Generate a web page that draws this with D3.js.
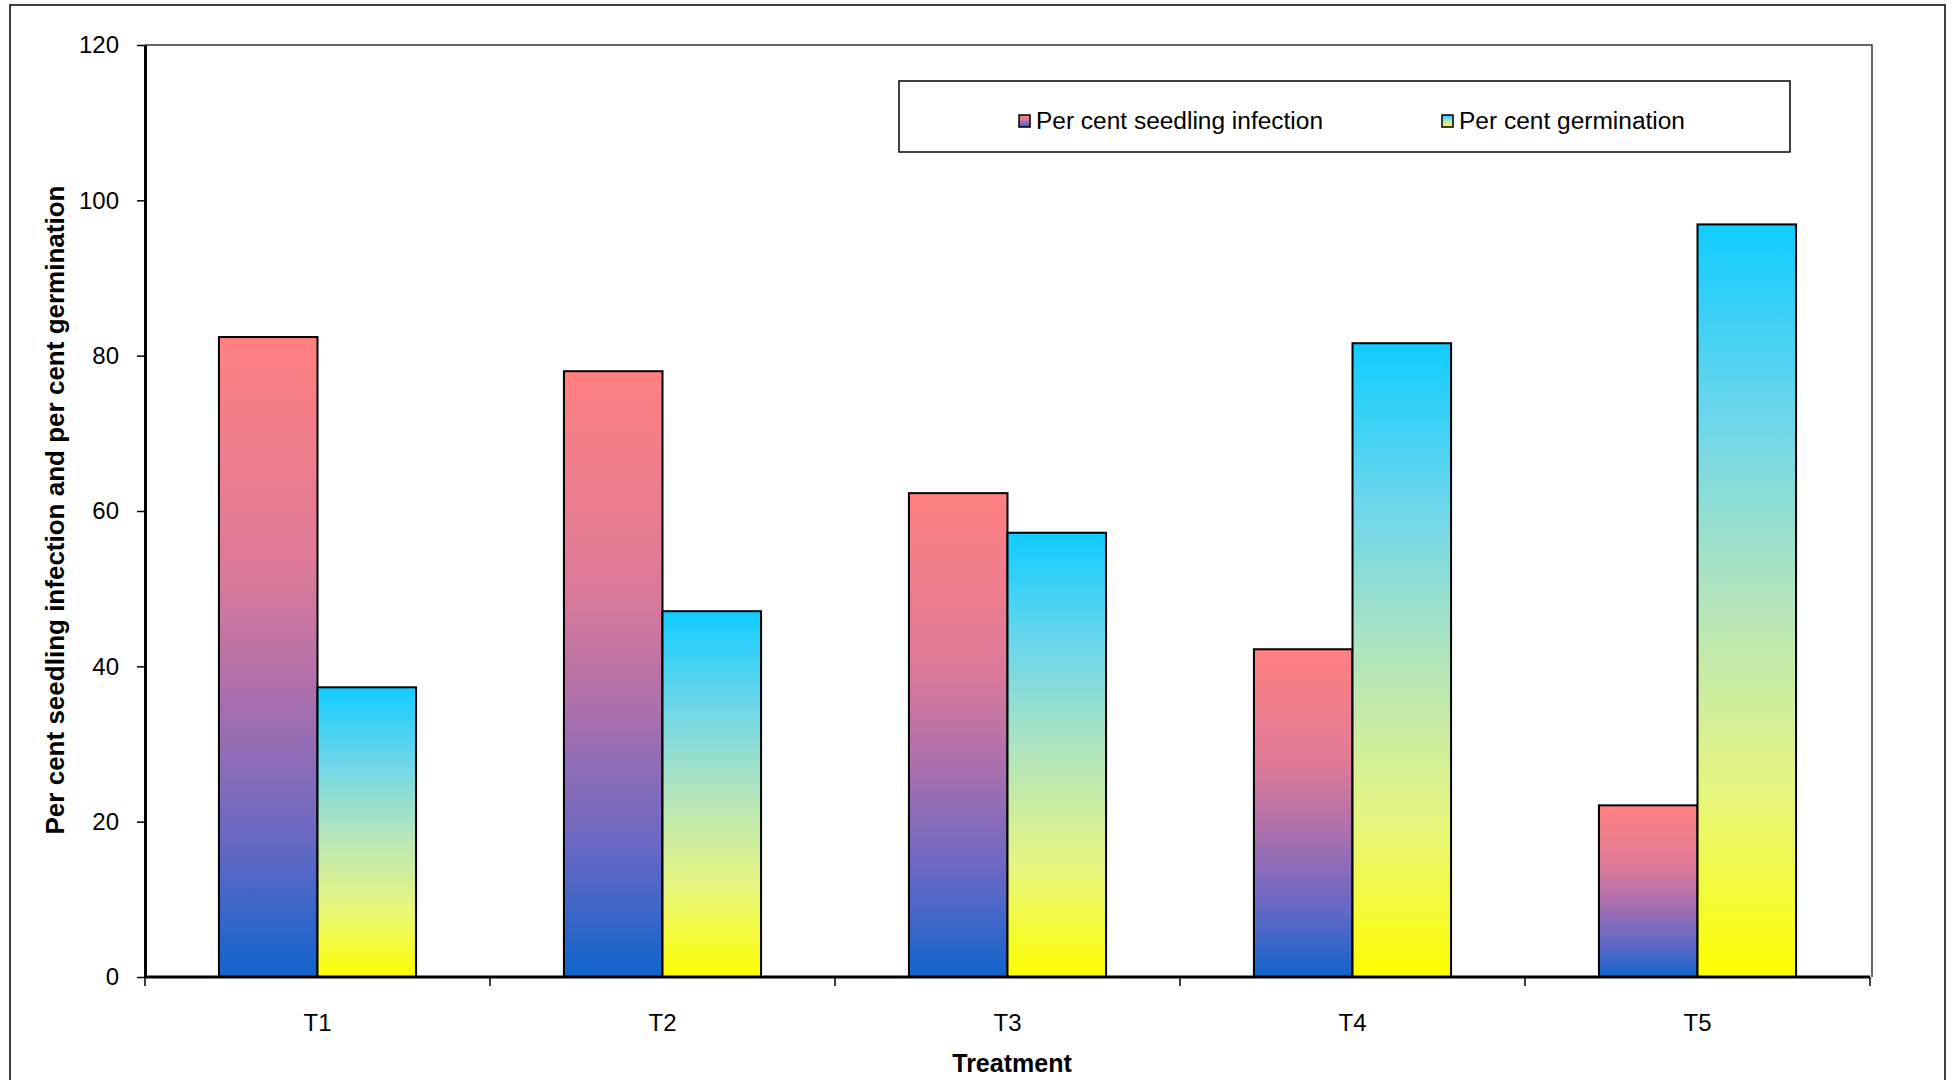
<!DOCTYPE html>
<html>
<head>
<meta charset="utf-8">
<script src="https://cdn.jsdelivr.net/npm/d3@7"></script>
<style>
  html, body { margin: 0; padding: 0; background: #fff; }
  svg { display: block; font-family: "Liberation Sans", Arial, Helvetica, sans-serif; }
</style>
</head>
<body>
<svg id="chart" width="1957" height="1080"></svg>
<script>
// Treatments on the x axis
const categories = ["T1", "T2", "T3", "T4", "T5"];
// Per cent seedling infection for each treatment
const infection = [82.4, 78.0, 62.3, 42.2, 22.1];
// Per cent germination for each treatment
const germination = [37.3, 47.1, 57.2, 81.6, 96.9];
// Series names shown in the legend
const seriesNames = ["Per cent seedling infection", "Per cent germination"];
// Y axis tick values
const yTicks = [0, 20, 40, 60, 80, 100, 120];

const svg = d3.select("#chart");
const plot = { left: 145, right: 1870, top: 45, bottom: 977 };

// Outer chart frame
svg.append("rect")
  .attr("x", 10).attr("y", 5).attr("width", 1935).attr("height", 1120)
  .attr("fill", "#fff").attr("stroke", "#000").attr("stroke-width", 1.5);

// Vertical gradients for each series (one per bar, spanning the bar's own height)
const defs = svg.append("defs");
const gradInf = defs.append("linearGradient").attr("id", "gInf")
  .attr("x1", 0).attr("y1", 0).attr("x2", 0).attr("y2", 1);
[[0, "#FF8080"], [0.35, "#DE7A98"], [0.55, "#AE70AC"], [0.78, "#6A68C4"], [1, "#1064CC"]]
  .forEach(([o, c]) => gradInf.append("stop").attr("offset", o).attr("stop-color", c));
const gradGerm = defs.append("linearGradient").attr("id", "gGerm")
  .attr("x1", 0).attr("y1", 0).attr("x2", 0).attr("y2", 1);
[[0, "#10CCFF"], [0.25, "#6AD6EC"], [0.5, "#B3E5BC"], [0.75, "#E6F580"], [1, "#FFFF00"]]
  .forEach(([o, c]) => gradGerm.append("stop").attr("offset", o).attr("stop-color", c));

const x = d3.scaleBand().domain(categories).range([plot.left, plot.right]).padding(0);
const y = d3.scaleLinear().domain([0, 120]).range([plot.bottom, plot.top]);

const barW = x.bandwidth() / 3.5;
const offset = barW * 0.75;

// Plot area border (top and right)
svg.append("path")
  .attr("d", `M${plot.left},${plot.top}H${plot.right + 2}V${plot.bottom}`)
  .attr("fill", "none").attr("stroke", "#333").attr("stroke-width", 1.5);

// Bars
const rows = categories.map((c, i) => ({ c, inf: infection[i], germ: germination[i] }));
const g = svg.append("g");
g.selectAll("rect.inf").data(rows).join("rect")
  .attr("class", "inf")
  .attr("x", d => x(d.c) + offset)
  .attr("y", d => y(d.inf))
  .attr("width", barW)
  .attr("height", d => y(0) - y(d.inf))
  .attr("fill", "url(#gInf)")
  .attr("stroke", "#000").attr("stroke-width", 2);
g.selectAll("rect.germ").data(rows).join("rect")
  .attr("class", "germ")
  .attr("x", d => x(d.c) + offset + barW)
  .attr("y", d => y(d.germ))
  .attr("width", barW)
  .attr("height", d => y(0) - y(d.germ))
  .attr("fill", "url(#gGerm)")
  .attr("stroke", "#000").attr("stroke-width", 2);

// Y axis
const yAxis = svg.append("g")
  .attr("transform", `translate(${plot.left},0)`)
  .call(d3.axisLeft(y).tickValues(yTicks).tickSizeInner(8).tickSizeOuter(0).tickPadding(18));
yAxis.select(".domain").attr("stroke", "#000").attr("stroke-width", 3);
yAxis.selectAll(".tick line").attr("stroke", "#000").attr("stroke-width", 1.5);
yAxis.selectAll(".tick text")
  .attr("font-size", 24).attr("fill", "#000")
  .attr("font-family", "'Liberation Sans', Arial, sans-serif");

// X axis: baseline, ticks at category boundaries, labels at band centres
svg.append("line")
  .attr("x1", plot.left).attr("x2", plot.right)
  .attr("y1", plot.bottom).attr("y2", plot.bottom)
  .attr("stroke", "#000").attr("stroke-width", 3);
const bounds = categories.map(c => x(c)).concat([plot.right]);
svg.selectAll("line.xtick").data(bounds).join("line")
  .attr("class", "xtick")
  .attr("x1", d => d).attr("x2", d => d)
  .attr("y1", plot.bottom).attr("y2", plot.bottom + 9)
  .attr("stroke", "#000").attr("stroke-width", 1.5);
svg.selectAll("text.xlab").data(categories).join("text")
  .attr("class", "xlab")
  .attr("x", d => x(d) + x.bandwidth() / 2)
  .attr("y", 1031)
  .attr("text-anchor", "middle")
  .attr("font-size", 24)
  .text(d => d);

// Axis titles
svg.append("text")
  .attr("x", 1012).attr("y", 1072)
  .attr("text-anchor", "middle")
  .attr("font-size", 25).attr("font-weight", "bold")
  .text("Treatment");
svg.append("text")
  .attr("transform", "translate(64,510) rotate(-90)")
  .attr("text-anchor", "middle")
  .attr("font-size", 25).attr("font-weight", "bold")
  .attr("textLength", 649).attr("lengthAdjust", "spacingAndGlyphs")
  .text("Per cent seedling infection and per cent germination");

// Legend
const legend = svg.append("g");
legend.append("rect")
  .attr("x", 899).attr("y", 81).attr("width", 891).attr("height", 71)
  .attr("fill", "#fff").attr("stroke", "#000").attr("stroke-width", 1.5);
const legendItems = [
  { name: seriesNames[0], fill: "url(#gInf)", mx: 1019, tx: 1036, w: 287 },
  { name: seriesNames[1], fill: "url(#gGerm)", mx: 1442, tx: 1459, w: 226 }
];
legendItems.forEach(it => {
  legend.append("rect")
    .attr("x", it.mx).attr("y", 115).attr("width", 11).attr("height", 12)
    .attr("fill", it.fill).attr("stroke", "#000").attr("stroke-width", 1.5);
  legend.append("text")
    .attr("x", it.tx).attr("y", 129)
    .attr("font-size", 23)
    .attr("textLength", it.w).attr("lengthAdjust", "spacingAndGlyphs")
    .text(it.name);
});
</script>
</body>
</html>
